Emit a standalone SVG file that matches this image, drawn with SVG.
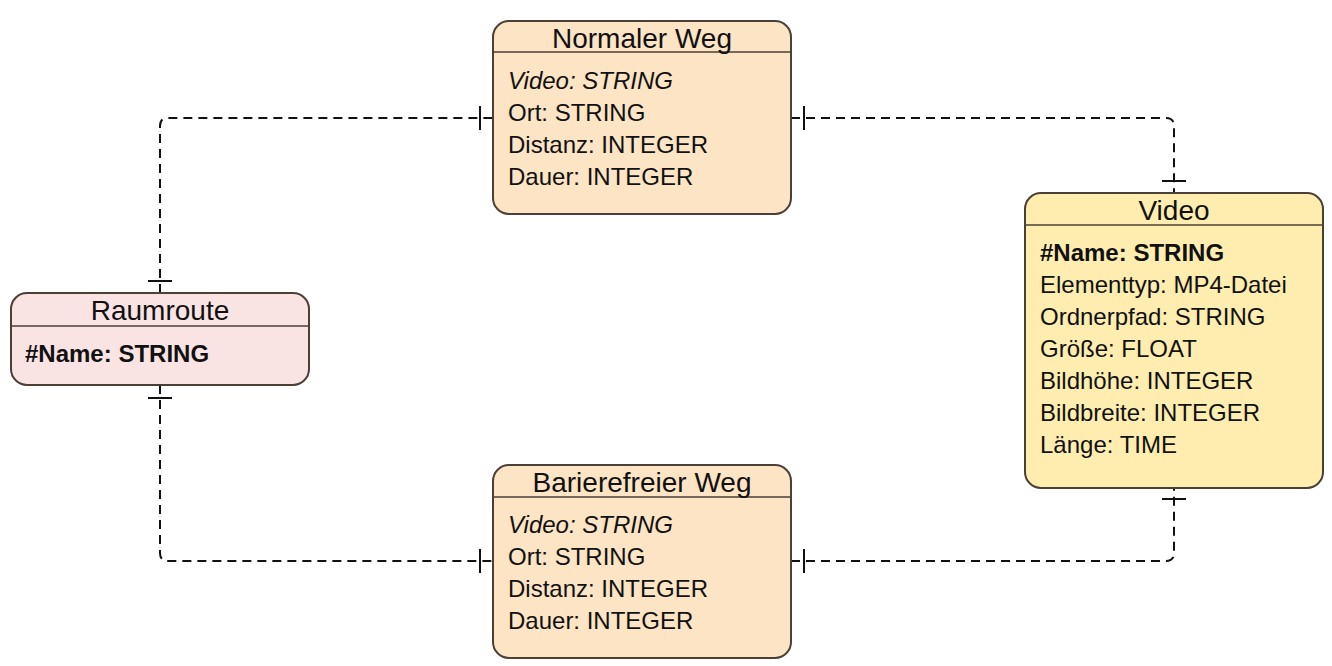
<svg xmlns="http://www.w3.org/2000/svg" width="1332" height="666" viewBox="0 0 1332 666">
<style>
.box{stroke:#4a4036;stroke-width:2}
.sep{stroke:#4a4036;stroke-width:1.5;fill:none}
.title{font-family:"Liberation Sans",Arial,sans-serif;font-size:28px;fill:#111;text-anchor:middle}
.attr{font-family:"Liberation Sans",Arial,sans-serif;font-size:24px;fill:#111}
.b{font-weight:bold}
.i{font-style:italic}
.conn{fill:none;stroke:#111;stroke-width:2;stroke-dasharray:9 6}
.tick{stroke:#111;stroke-width:2}
</style>
<rect width="1332" height="666" fill="#ffffff"/>
<g id="connectors">
<path class="conn" d="M160,293 L160,126 Q160,118 168,118 L493,118"/>
<path class="conn" d="M791,118 L1166,118 Q1174,118 1174,126 L1174,193"/>
<path class="conn" d="M160,385 L160,553 Q160,561 168,561 L493,561"/>
<path class="conn" d="M791,561 L1166,561 Q1174,561 1174,553 L1174,488"/>
<path class="tick" d="M148,281 H172 M480,106 V130 M804,106 V130 M1162,181 H1186 M148,398 H172 M480,549 V573 M804,549 V573 M1162,499 H1186"/>
</g>
<g id="normaler-weg">
<rect class="box" x="493" y="21" width="298" height="193" rx="16" fill="#fce4c4"/>
<line class="sep" x1="493" y1="52" x2="791" y2="52"/>
<text class="title" x="642" y="48">Normaler Weg</text>
<text class="attr i" x="508" y="89">Video: STRING</text>
<text class="attr" x="508" y="121">Ort: STRING</text>
<text class="attr" x="508" y="153">Distanz: INTEGER</text>
<text class="attr" x="508" y="185">Dauer: INTEGER</text>
</g>
<g id="barierefreier-weg">
<rect class="box" x="493" y="465" width="298" height="193" rx="16" fill="#fce4c4"/>
<line class="sep" x1="493" y1="497" x2="791" y2="497"/>
<text class="title" x="642" y="492">Barierefreier Weg</text>
<text class="attr i" x="508" y="533">Video: STRING</text>
<text class="attr" x="508" y="565">Ort: STRING</text>
<text class="attr" x="508" y="597">Distanz: INTEGER</text>
<text class="attr" x="508" y="629">Dauer: INTEGER</text>
</g>
<g id="video">
<rect class="box" x="1025" y="193" width="298" height="295" rx="16" fill="#ffedaf"/>
<line class="sep" x1="1025" y1="225" x2="1323" y2="225"/>
<text class="title" x="1174" y="220">Video</text>
<text class="attr b" x="1040" y="261">#Name: STRING</text>
<text class="attr" x="1040" y="293">Elementtyp: MP4-Datei</text>
<text class="attr" x="1040" y="325">Ordnerpfad: STRING</text>
<text class="attr" x="1040" y="357">Größe: FLOAT</text>
<text class="attr" x="1040" y="389">Bildhöhe: INTEGER</text>
<text class="attr" x="1040" y="421">Bildbreite: INTEGER</text>
<text class="attr" x="1040" y="453">Länge: TIME</text>
</g>
<g id="raumroute">
<rect class="box" x="11" y="293" width="298" height="92" rx="16" fill="#fae4e3"/>
<line class="sep" x1="11" y1="326" x2="309" y2="326"/>
<text class="title" x="160" y="320">Raumroute</text>
<text class="attr b" x="25" y="362">#Name: STRING</text>
</g>
</svg>
